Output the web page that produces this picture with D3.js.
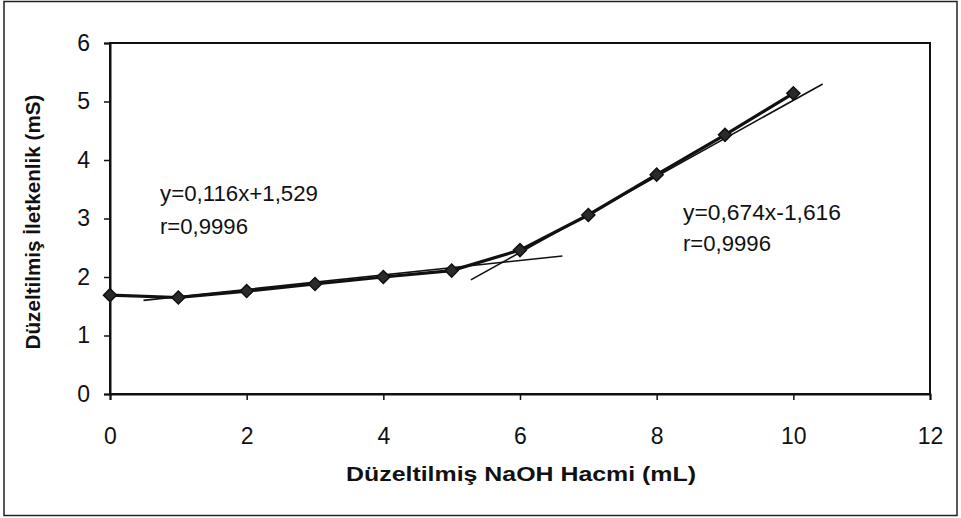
<!DOCTYPE html>
<html><head><meta charset="utf-8">
<script src="https://cdn.jsdelivr.net/npm/d3@7"></script>
<style>body{margin:0;background:#fff}svg{display:block}</style>
</head><body><svg id="c" width="961" height="518"></svg>
<script>
const xValues = [0,1,2,3,4,5,6,7,8,9,10];
const yValues = [1.69,1.65,1.76,1.88,2.00,2.11,2.46,3.06,3.75,4.43,5.14];
const fit1 = [[0.49,1.60],[6.62,2.36]];
const fit2 = [[5.28,1.95],[10.43,5.30]];
const xTicks = [0,2,4,6,8,10,12];
const yTicks = [0,1,2,3,4,5,6];
const labels1 = ["y=0,116x+1,529","r=0,9996"];
const labels2 = ["y=0,674x-1,616","r=0,9996"];
const xTitle = "Düzeltilmiş NaOH Hacmi (mL)";
const yTitle = "Düzeltilmiş İletkenlik (mS)";

const svg = d3.select("#c");
const L=110,R=930,T=43,B=394;
const x = d3.scaleLinear().domain([0,12]).range([L,R]);
const y = d3.scaleLinear().domain([0,6]).range([B,T]);
const font = "Arial, 'Liberation Sans', sans-serif";

svg.append("rect").attr("x",4).attr("y",1.5).attr("width",953).attr("height",514)
  .attr("fill","none").attr("stroke","#222").attr("stroke-width",1.5);

svg.append("rect").attr("x",L).attr("y",T).attr("width",R-L).attr("height",B-T)
  .attr("fill","none").attr("stroke","#111").attr("stroke-width",2);

const ya = svg.append("g").attr("transform",`translate(${L},0)`)
  .call(d3.axisLeft(y).tickValues(yTicks).tickSize(6).tickPadding(14).tickFormat(d3.format("d")));
const xa = svg.append("g").attr("transform",`translate(0,${B})`)
  .call(d3.axisBottom(x).tickValues(xTicks).tickSize(6).tickPadding(28).tickFormat(d3.format("d")));
[ya,xa].forEach(a=>{
  a.select(".domain").attr("stroke","#111").attr("stroke-width",2);
  a.selectAll(".tick line").attr("stroke","#111").attr("stroke-width",1.5);
  a.selectAll("text").attr("font-family",font).attr("font-size",23).attr("fill","#111");
});

const line = d3.line().x(d=>x(d[0])).y(d=>y(d[1]));
[fit1,fit2].forEach(f=>{
  svg.append("path").attr("d",line(f)).attr("fill","none").attr("stroke","#111").attr("stroke-width",1.6);
});
const pts = xValues.map((v,i)=>[v,yValues[i]]);
svg.append("path").attr("d",line(pts)).attr("fill","none").attr("stroke","#111").attr("stroke-width",3.2);

const sym = d3.symbol().type(d3.symbolSquare).size(85);
svg.selectAll(".m").data(pts).join("path")
  .attr("transform",d=>`translate(${x(d[0])},${y(d[1])}) rotate(45)`)
  .attr("d",sym).attr("fill","#2a2a2a").attr("stroke","#111").attr("stroke-width",1.5);

function ann(lines, x0, y0, dy, len){
  lines.forEach((s,i)=>{
    svg.append("text").attr("x",x0).attr("y",y0+i*dy)
      .attr("font-family",font).attr("font-size",22).attr("fill","#111")
      .attr("textLength",len[i]).attr("lengthAdjust","spacingAndGlyphs").text(s);
  });
}
ann(labels1,160,201,33,[158,88]);
ann(labels2,683,220,31,[158,88]);

svg.append("text").attr("x",521).attr("y",481).attr("text-anchor","middle")
  .attr("font-family",font).attr("font-size",21).attr("font-weight","bold").attr("fill","#111")
  .attr("textLength",350).attr("lengthAdjust","spacingAndGlyphs").text(xTitle);
svg.append("text").attr("transform","translate(40,222) rotate(-90)").attr("text-anchor","middle")
  .attr("font-family",font).attr("font-size",21).attr("font-weight","bold").attr("fill","#111")
  .attr("textLength",255).attr("lengthAdjust","spacingAndGlyphs").text(yTitle);
</script></body></html>
